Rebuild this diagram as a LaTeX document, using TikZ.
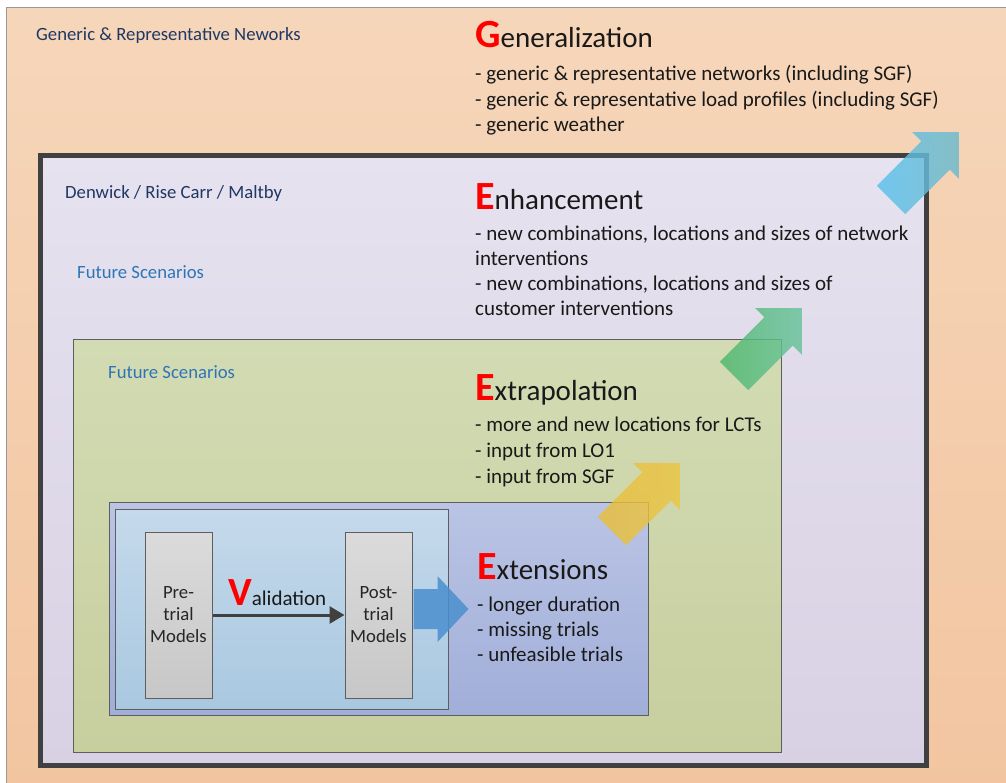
\documentclass[tikz,border=0pt]{standalone}
\usepackage{fontspec}
\setmainfont{Carlito}
\usetikzlibrary{arrows.meta}
\definecolor{navy}{HTML}{1F3864}
\definecolor{fsblue}{HTML}{2E75B6}
\definecolor{orTop}{HTML}{F6D6BA}
\definecolor{orBot}{HTML}{F2C5A0}
\definecolor{lavTop}{HTML}{E6E2EF}
\definecolor{lavBot}{HTML}{D8D1E4}
\definecolor{grTop}{HTML}{D3DBB4}
\definecolor{grBot}{HTML}{C7CF9F}
\definecolor{bpTop}{HTML}{BAC4E5}
\definecolor{bpBot}{HTML}{A1AED8}
\definecolor{lbTop}{HTML}{C5D9EB}
\definecolor{lbBot}{HTML}{A9C8E0}
\definecolor{gyTop}{HTML}{DBDBDB}
\definecolor{gyBot}{HTML}{C7C7C7}
\definecolor{frame}{HTML}{404040}
\definecolor{thin}{HTML}{5E5E5E}
\definecolor{blkblue}{HTML}{4A8FCF}
\definecolor{cyA}{HTML}{58C2EE}
\definecolor{cyB}{HTML}{6DB9CC}
\definecolor{gnA}{HTML}{4DB86C}
\definecolor{gnB}{HTML}{68C29C}
\definecolor{yeA}{HTML}{E9BE3A}
\definecolor{yeB}{HTML}{EBC545}
\newcommand\bigL[1]{{\fontsize{40}{40}\selectfont\bfseries\color{red}#1}}
\begin{document}
\begin{tikzpicture}[x=1pt,y=-1pt,
  lbl/.style={anchor=base west,inner sep=0pt,font=\fontsize{18.7}{22}\selectfont},
  head/.style={anchor=base west,inner sep=0pt,font=\fontsize{29}{29}\selectfont,text=black!90},
  body/.style={anchor=base west,inner sep=0pt,font=\fontsize{21}{26}\selectfont,text=black!90},
  model/.style={draw=thin,line width=1pt,top color=gyTop,bottom color=gyBot,
    minimum width=67pt,minimum height=166pt,inner sep=0pt,align=center,
    font=\fontsize{18.7}{22}\selectfont,text=black!85},
  diag/.style={fill opacity=0.82}]
\useasboundingbox (0,0) rectangle (1006,782);
\fill[white] (0,0) rectangle (1006,782);
% outer generic box
\path[draw=gray!80,line width=1pt,top color=orTop,bottom color=orBot] (6,7) rectangle (1014,792);
% thick frame
\path[draw=frame,line width=5pt,top color=lavTop,bottom color=lavBot] (40,155) rectangle (926,765);
% green box
\path[draw=thin,line width=1pt,top color=grTop,bottom color=grBot] (73,339) rectangle (781,752);
% blue-purple box
\path[draw=thin,line width=1pt,top color=bpTop,bottom color=bpBot] (109,502) rectangle (648,715);
% light blue box
\path[draw=thin,line width=1pt,top color=lbTop,bottom color=lbBot] (115,509) rectangle (448,709);
% model boxes
\node[model] (pre) at (178.5,615) {Pre-\\trial\\Models};
\node[model] (post) at (378.5,615) {Post-\\trial\\Models};
\draw[frame,line width=3pt,-{Triangle[length=15pt,width=17pt]}] (pre.east) -- (post.west);
\node[anchor=base west,inner sep=0pt,font=\fontsize{21}{21}\selectfont,text=black!90] (val) at (228,605) {\bigL{V}alidation};
% block arrow post -> extensions
\fill[fill=blkblue,fill opacity=0.85,shift={(post.east)}]
  (1,-26) -- (25,-26) -- (25,-39) -- (56,-6) -- (25,27) -- (25,14) -- (1,14) -- cycle;
% labels
\node[lbl,text=navy] (l1) at (36,40) {Generic \& Representative Neworks};
\node[lbl,text=navy] (l2) at (65,198) {Denwick / Rise Carr / Maltby};
\node[lbl,text=fsblue] (l3) at (77,278) {Future Scenarios};
\node[lbl,text=fsblue] (l4) at (108,378) {Future Scenarios};
% Generalization
\node[head] (hg) at (475,47) {\bigL{G}eneralization};
\node[body] (g1) at (475,80) {- generic \& representative networks (including SGF)};
\node[body] (g2) at (475,106) {- generic \& representative load profiles (including SGF)};
\node[body] (g3) at (475,131) {- generic weather};
% Enhancement
\node[head] (he) at (475,209) {\bigL{E}nhancement};
\node[body] (e1) at (475,240) {- new combinations, locations and sizes of network};
\node[body] (e2) at (475,265) {interventions};
\node[body] (e3) at (475,290) {- new combinations, locations and sizes of};
\node[body] (e4) at (475,315) {customer interventions};
% Extrapolation
\node[head] (hx) at (475,400) {\bigL{E}xtrapolation};
\node[body] (x1) at (475,431) {- more and new locations for LCTs};
\node[body] (x2) at (475,457) {- input from LO1};
\node[body] (x3) at (475,483) {- input from SGF};
% Extensions
\node[head] (hs) at (477,579) {\bigL{E}xtensions};
\node[body] (s1) at (477,611) {- longer duration};
\node[body] (s2) at (477,636) {- missing trials};
\node[body] (s3) at (477,661) {- unfeasible trials};
% diagonal arrows
\begin{scope}[shift={(891,200)},rotate=45]
\path[diag,left color=cyA,right color=cyB] (0,-20) -- (63,-20) -- (63,-33) -- (96,0) -- (63,33) -- (63,20) -- (0,20) -- cycle;
\end{scope}
\begin{scope}[shift={(734,376)},rotate=45]
\path[diag,left color=gnA,right color=gnB] (0,-20) -- (63,-20) -- (63,-33) -- (96,0) -- (63,33) -- (63,20) -- (0,20) -- cycle;
\end{scope}
\begin{scope}[shift={(612,531)},rotate=45]
\path[diag,left color=yeA,right color=yeB] (0,-20) -- (63,-20) -- (63,-33) -- (96,0) -- (63,33) -- (63,20) -- (0,20) -- cycle;
\end{scope}
\end{tikzpicture}
\end{document}
